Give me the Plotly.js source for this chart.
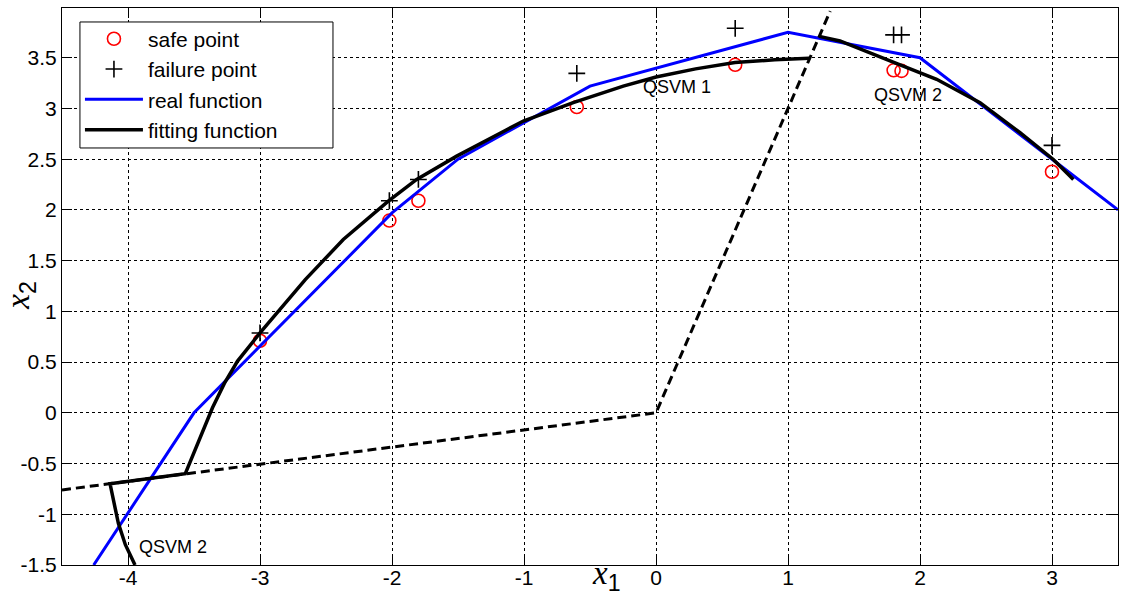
<!DOCTYPE html>
<html>
<head>
<meta charset="utf-8">
<script src="https://cdn.plot.ly/plotly-3.0.1.min.js"></script>
<style>html,body{margin:0;padding:0;background:#fff;}#chart{width:1133px;height:595px;}</style>
</head>
<body>
<div id="chart"></div>
<script>
// Sample points
const pointX = [-3, -2.02, -1.8, -0.6, 0.6, 1.8, 1.86, 3];
const safeY = [0.71, 1.895, 2.09, 3.014, 3.43, 3.376, 3.37, 2.376];
const failY = [0.787, 2.09, 2.30, 3.346, 3.79, 3.725, 3.725, 2.636];

// Real limit-state function
const realX = [-4.26, -3.5, -2, -1.5, -0.5, 1, 2, 3.5];
const realY = [-1.5, 0, 1.97, 2.5, 3.22, 3.75, 3.5, 2.0];

// Fitting function pieces
const fitAX = [-3.947, -4.02, -4.073, -4.136, -3.566, -3.45, -3.36, -3.27, -3.17, -3.0, -2.858, -2.657, -2.369, -2.028, -1.813, -1.51, -1.131, -1.005, -0.627, -0.248, 0.0, 0.3, 0.598, 0.9, 1.16];
const fitAY = [-1.5, -1.3, -1.09, -0.70, -0.60, -0.24, 0.05, 0.29, 0.51, 0.787, 1.0, 1.313, 1.708, 2.086, 2.30, 2.53, 2.79, 2.876, 3.057, 3.22, 3.31, 3.39, 3.452, 3.48, 3.495];
const fitBX = [1.237, 1.394, 1.773, 2.126, 2.455, 2.758, 3.01, 3.162];
const fitBY = [3.71, 3.665, 3.468, 3.287, 3.057, 2.761, 2.497, 2.30];

// QSVM region boundaries
const bndX = [-4.5, 0, 1.32];
const bndY = [-0.76, 0, 3.96];

// Tick labels
const xTickVals = [-4, -3, -2, -1, 0, 1, 2, 3];
const xTickText = ["-4", "-3", "-2", "-1", "0", "1", "2", "3"];
const yTickVals = [-1.5, -1, -0.5, 0, 0.5, 1, 1.5, 2, 2.5, 3, 3.5];
const yTickText = ["-1.5", "-1", "-0.5", "0", "0.5", "1", "1.5", "2", "2.5", "3", "3.5"];

const traces = [
  {x: pointX, y: safeY, type: 'scatter', mode: 'markers', name: 'safe point',
   marker: {symbol: 'circle-open', size: 13, color: '#ff0000', line: {width: 1.6, color: '#ff0000'}}},
  {x: pointX, y: failY, type: 'scatter', mode: 'markers', name: 'failure point',
   marker: {symbol: 'cross-thin-open', size: 12, color: '#000000', line: {width: 1.6, color: '#000000'}}},
  {x: realX, y: realY, type: 'scatter', mode: 'lines', name: 'real function',
   line: {color: '#0000ff', width: 3}},
  {x: fitAX, y: fitAY, type: 'scatter', mode: 'lines', name: 'fitting function',
   line: {color: '#000000', width: 3.5}},
  {x: fitBX, y: fitBY, type: 'scatter', mode: 'lines', showlegend: false,
   line: {color: '#000000', width: 3.5}},
  {x: bndX, y: bndY, type: 'scatter', mode: 'lines', showlegend: false,
   line: {color: '#000000', width: 3, dash: '9px,5px'}}
];

const axisCommon = {
  showline: true, linecolor: '#000', linewidth: 1, mirror: 'ticks',
  ticks: 'inside', ticklen: 10, tickcolor: '#000', tickwidth: 1,
  showgrid: true, gridcolor: '#000', gridwidth: 1, griddash: '3px,3px',
  zeroline: false, tickfont: {family: 'Liberation Sans, Arial, sans-serif', size: 21, color: '#000'},
  tickmode: 'array', fixedrange: true
};

const layout = {
  width: 1133, height: 595,
  margin: {l: 62, r: 15, t: 8, b: 30},
  paper_bgcolor: '#fff', plot_bgcolor: '#fff',
  showlegend: true,
  xaxis: Object.assign({}, axisCommon, {range: [-4.5, 3.5], tickvals: xTickVals, ticktext: xTickText, ticklabelstandoff: -6}),
  yaxis: Object.assign({}, axisCommon, {range: [-1.5, 3.99], tickvals: yTickVals, ticktext: yTickText}),
  legend: {x: 0.017, y: 0.981, xanchor: 'left', yanchor: 'top', bgcolor: 'rgba(0,0,0,0)',
           borderwidth: 0, itemwidth: 58,
           font: {family: 'Liberation Sans, Arial, sans-serif', size: 21, color: '#000'}},
  shapes: [
    {type: 'rect', xref: 'paper', yref: 'paper', x0: 0.017, x1: 0.2566, y0: 0.7487, y1: 0.9749,
     fillcolor: '#ffffff', line: {color: '#000', width: 1}, layer: 'above'}
  ],
  annotations: [
    {x: -0.11, y: 3.21, xref: 'x', yref: 'y', text: 'QSVM 1', showarrow: false, xanchor: 'left', yanchor: 'middle',
     font: {family: 'Liberation Sans, Arial, sans-serif', size: 18, color: '#000'}},
    {x: 1.634, y: 3.13, xref: 'x', yref: 'y', text: 'QSVM 2', showarrow: false, xanchor: 'left', yanchor: 'middle',
     font: {family: 'Liberation Sans, Arial, sans-serif', size: 18, color: '#000'}},
    {x: -3.934, y: -1.32, xref: 'x', yref: 'y', text: 'QSVM 2', showarrow: false, xanchor: 'left', yanchor: 'middle',
     font: {family: 'Liberation Sans, Arial, sans-serif', size: 18, color: '#000'}},
    {x: 0.516, y: -0.018, xref: 'paper', yref: 'paper', showarrow: false, xanchor: 'center', yanchor: 'middle',
     text: '<i>x</i><sub><span style="font-family:Liberation Sans">1</span></sub>',
     font: {family: 'Liberation Serif, Times New Roman, serif', size: 33, color: '#000'}},
    {x: -0.039, y: 0.485, xref: 'paper', yref: 'paper', showarrow: false, xanchor: 'center', yanchor: 'middle', textangle: -90,
     text: '<i>x</i><sub><span style="font-family:Liberation Sans">2</span></sub>',
     font: {family: 'Liberation Serif, Times New Roman, serif', size: 33, color: '#000'}}
  ]
};

Plotly.newPlot('chart', traces, layout, {displayModeBar: false, staticPlot: true});
</script>
</body>
</html>
